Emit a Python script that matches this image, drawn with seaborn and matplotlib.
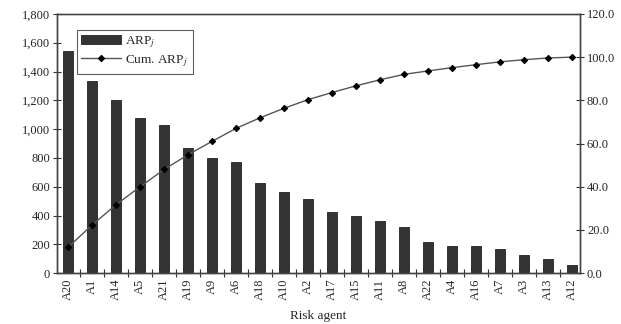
import matplotlib
matplotlib.use("Agg")
import matplotlib.pyplot as plt
from matplotlib.ticker import FuncFormatter, FixedLocator
import seaborn as sns

agents = ["A20", "A1", "A14", "A5", "A21", "A19", "A9", "A6", "A18", "A10", "A2",
          "A17", "A15", "A11", "A8", "A22", "A4", "A16", "A7", "A3", "A13", "A12"]
arp = [1540, 1335, 1200, 1075, 1030, 870, 800, 775, 625, 560, 515,
       425, 400, 360, 320, 215, 185, 185, 170, 125, 100, 55]
cum_arp = [12.0, 22.3, 31.7, 40.0, 48.0, 54.8, 61.0, 67.0, 71.9, 76.3, 80.3,
           83.6, 86.7, 89.5, 92.0, 93.6, 95.1, 96.5, 97.8, 98.8, 99.6, 100.0]

sns.set_theme(style="white")
plt.rcParams["font.family"] = ["Liberation Serif", "DejaVu Serif"]
plt.rcParams["mathtext.fontset"] = "stix"

fig = plt.figure(figsize=(6.21, 3.24), dpi=100)
ax = fig.add_axes([0.092, 0.157, 0.842, 0.8])

sns.barplot(x=agents, y=arp, color="#333333", width=0.42, ax=ax,
            edgecolor="#222222", linewidth=0.6, saturation=1, label="ARP$_j$")
ax.set_ylim(0, 1800)
ax.set_xlim(-0.46, 21.35)
ax.yaxis.set_major_locator(FixedLocator(range(0, 1801, 200)))
ax.yaxis.set_major_formatter(FuncFormatter(lambda v, p: f"{int(v):,}"))
ax.set_xlabel("Risk agent", fontsize=9.5, labelpad=7)
ax.set_ylabel("")

ax2 = ax.twinx()
sns.pointplot(x=agents, y=cum_arp, ax=ax2, color="#555555", markers="D",
              linestyles="-", markersize=3.2, linewidth=1.0, label="Cum. ARP$_j$")
for ln in ax2.lines:
    ln.set_markerfacecolor("black")
    ln.set_markeredgecolor("black")
ax2.set_ylim(0, 120)
ax2.set_xlim(-0.46, 21.35)
ax2.yaxis.set_major_locator(FixedLocator(range(0, 121, 20)))
ax2.yaxis.set_major_formatter(FuncFormatter(lambda v, p: f"{v:.1f}"))
ax2.set_ylabel("")

# x ticks sit between categories, crossing the axis
ax.set_xticks(range(len(agents)))
ax.set_xticklabels(agents, rotation=90, fontsize=9)
ax.tick_params(axis="x", which="major", length=0, pad=4)
ax.set_xticks([i + 0.5 for i in range(len(agents) - 1)], minor=True)
ax.tick_params(axis="x", which="minor", direction="inout", length=6, width=0.8,
               color="#333333", bottom=True)
ax.tick_params(axis="y", direction="inout", length=6, width=0.8, left=True,
               color="#333333", labelsize=9, pad=2)
ax2.tick_params(axis="y", direction="inout", length=6, width=0.8, right=True,
                color="#333333", labelsize=9, pad=2)

for a in (ax, ax2):
    for s in a.spines.values():
        s.set_color("#444444")
        s.set_linewidth(1.0)
ax.spines["top"].set_color("#777777")

h1, l1 = ax.get_legend_handles_labels()
h2, l2 = ax2.get_legend_handles_labels()
if ax.get_legend():
    ax.get_legend().remove()
if ax2.get_legend():
    ax2.get_legend().remove()
leg = ax2.legend(h1 + h2, ["ARP$_j$", "Cum. ARP$_j$"], loc="upper left",
                 bbox_to_anchor=(0.025, 0.965), fontsize=9.5, frameon=True,
                 fancybox=False, edgecolor="#333333", handlelength=3.0,
                 borderpad=0.35, labelspacing=0.25, handletextpad=0.3)
leg.get_frame().set_linewidth(0.8)

fig.savefig("out.png", dpi=100)
